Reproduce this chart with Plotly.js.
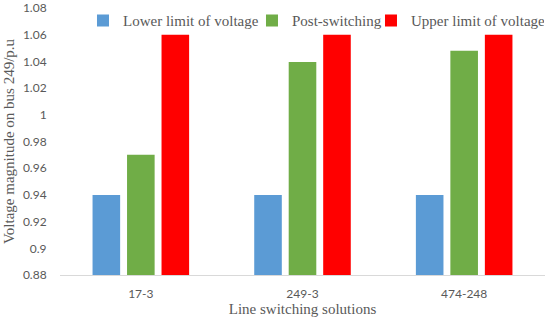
<!DOCTYPE html>
<html>
<head>
<meta charset="utf-8">
<script src="https://cdn.plot.ly/plotly-3.0.1.min.js"></script>
<style>html,body{margin:0;padding:0;background:#fff;}#chart{width:550px;height:320px;}</style>
</head>
<body>
<div id="chart"></div>
<script>
const categories = ["17-3", "249-3", "474-248"];
const lowerLimit = [0.94, 0.94, 0.94];
const postSwitching = [0.97, 1.0395, 1.048];
const upperLimit = [1.06, 1.06, 1.06];
const seriesNames = ["Lower limit of voltage", "Post-switching", "Upper limit of voltage"];
const yTicks = [0.88, 0.9, 0.92, 0.94, 0.96, 0.98, 1, 1.02, 1.04, 1.06, 1.08];

const colors = ["#5B9BD5", "#70AD47", "#FF0000"];
const legendWidths = [124, 74, 128];
const series = [lowerLimit, postSwitching, upperLimit];
const data = series.map((vals, i) => ({
  type: "bar",
  x: categories,
  y: vals,
  name: seriesNames[i],
  marker: {color: colors[i]},
  legendwidth: legendWidths[i],
  hoverinfo: "none"
}));

const layout = {
  width: 550, height: 320,
  margin: {l: 60, r: 5, t: 8, b: 45, autoexpand: false},
  paper_bgcolor: "#fff", plot_bgcolor: "#fff",
  barmode: "group",
  bargap: 0.36,
  bargroupgap: 0.2,
  showlegend: true,
  legend: {
    orientation: "h", x: 0.0474, xanchor: "left", y: 0.952, yanchor: "middle",
    font: {family: "Liberation Serif", size: 15, color: "#595959"},
    itemwidth: 30, tracegroupgap: 0, traceorder: "normal", bgcolor: "rgba(0,0,0,0)"
  },
  xaxis: {
    type: "category",
    showline: true, linecolor: "#d9d9d9", linewidth: 1,
    ticks: "outside", ticklen: 8, tickcolor: "rgba(0,0,0,0)", showgrid: false,
    tickfont: {family: "Lato", size: 12, color: "#595959"},
    title: {text: "Line switching solutions", font: {family: "Liberation Serif", size: 15, color: "#595959"}, standoff: 1}
  },
  yaxis: {
    range: [0.88, 1.08],
    tickvals: yTicks,
    ticktext: yTicks.map(v => String(v)),
    showgrid: false, zeroline: false, showline: false,
    ticks: "outside", ticklen: 10, tickcolor: "rgba(0,0,0,0)",
    tickfont: {family: "Lato", size: 12, color: "#595959"},
    title: {text: "Voltage magnitude on bus 249/p.u", font: {family: "Liberation Serif", size: 15, color: "#595959"}, standoff: 4}
  }
};

Plotly.newPlot("chart", data, layout, {displayModeBar: false, staticPlot: true});
</script>
</body>
</html>
